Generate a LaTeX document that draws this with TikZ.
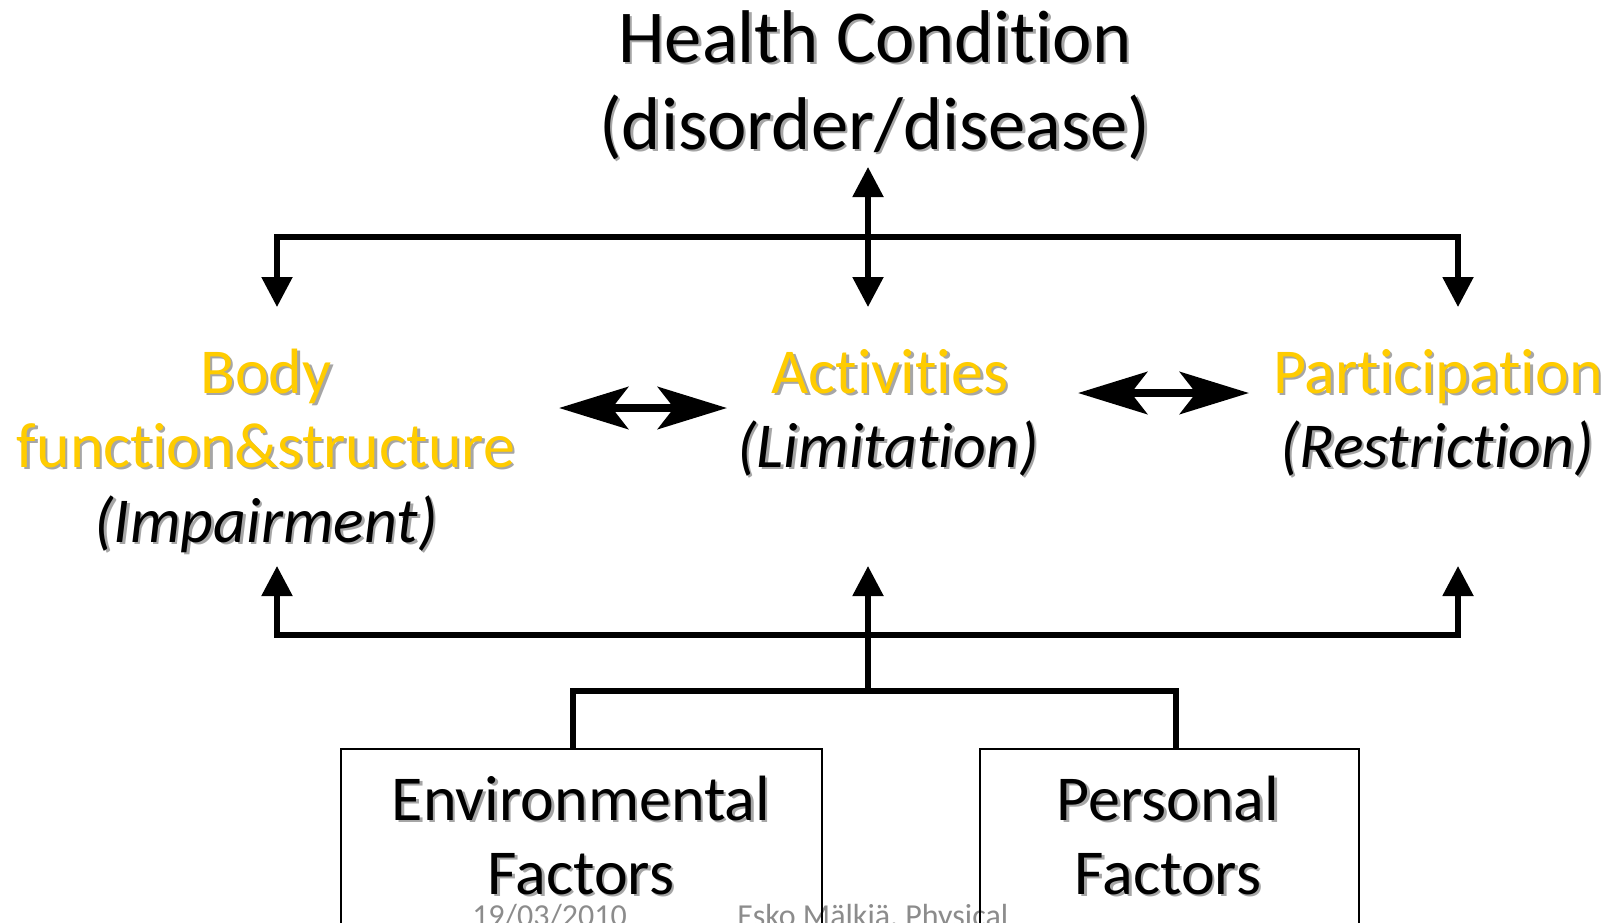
\documentclass[tikz,border=0pt]{standalone}
\usepackage{fontspec}
\setmainfont{Carlito}[RawFeature={-liga;-dlig;-clig}]
\usetikzlibrary{arrows.meta}
\definecolor{icfyellow}{HTML}{FFCC00}
\definecolor{shadowgray}{HTML}{A6A6A6}
\definecolor{footgray}{HTML}{8C8C8C}
\newcommand\shtext[4]{%
  \node[#3,text=shadowgray] (#1-sh) at ([shift={(2.5,2.5)}]#2) {#4};
  \node[#3] (#1) at (#2) {#4};}
\tikzset{
  lbl/.style={anchor=base,inner sep=0pt},
  hugetxt/.style={lbl,font=\fontsize{56pt}{64pt}\selectfont},
  bigtxt/.style={lbl,font=\fontsize{48pt}{56pt}\selectfont},
  bigit/.style={lbl,font=\fontsize{48pt}{56pt}\selectfont\itshape},
  yel/.style={bigtxt,text=icfyellow},
  foot/.style={anchor=base west,inner sep=0pt,text=footgray,font=\fontsize{24pt}{28pt}\selectfont},
  conn/.style={line width=4pt,line join=miter,line cap=butt},
  tri/.tip={Triangle[length=22.5pt,width=22.5pt]},
  blk/.tip={Stealth[length=51.75pt,width=31.5pt,inset=12pt]},
  dbl/.style={line width=6.5pt,blk-blk},
  factorbox/.style={draw,line width=1.2pt,inner sep=0pt,anchor=north west}
}
\begin{document}
\begin{tikzpicture}[x=0.75pt,y=-0.75pt]
\clip (0,0) rectangle (1617,922);
\fill[white] (0,0) rectangle (1617,922);

% footer (behind the boxes)
\node[foot] (date) at (472,926) {19/03/2010};
\node[foot] (author) at (737,926) {Esko Mälkiä, Physical};

% texts
\shtext{hc1}{875,62}{hugetxt}{Health Condition}
\shtext{hc2}{875,149}{hugetxt}{(disorder/disease)}

\shtext{body1}{266,393}{yel}{Body}
\shtext{body2}{266,467}{yel}{function\&structure}
\shtext{body3}{266,542}{bigit}{(Impairment)}

\shtext{act1}{890,393}{yel}{Activities}
\shtext{act2}{888,467}{bigit}{(Limitation)}

\shtext{part1}{1438,393}{yel}{Participation}
\shtext{part2}{1437,467}{bigit}{(Restriction)}

% factor boxes
\node[factorbox,minimum width=360.75pt,minimum height=180pt] (envbox) at (340,748) {};
\node[factorbox,minimum width=284.25pt,minimum height=180pt] (persbox) at (979,748) {};
\shtext{env1}{581,820}{bigtxt}{Environmental}
\shtext{env2}{581,894}{bigtxt}{Factors}
\shtext{pers1}{1168,820}{bigtxt}{Personal}
\shtext{pers2}{1168,894}{bigtxt}{Factors}

% connector points
\coordinate (hcIn) at (868,167);
\coordinate (tBusL) at (277,237);
\coordinate (tBusR) at (1458,237);
\coordinate (bodyIn) at (277,307);
\coordinate (actIn) at (868,307);
\coordinate (partIn) at (1458,307);
\coordinate (bodyOut) at (277,566);
\coordinate (actOut) at (868,566);
\coordinate (partOut) at (1458,566);
\coordinate (bBusL) at (277,635);
\coordinate (bBusM) at (868,635);
\coordinate (bBusR) at (1458,635);
\coordinate (fJoin) at (868,691);
\coordinate (envUp) at (573,691);
\coordinate (persUp) at (1176,691);
\coordinate (envTop) at (envbox.north -| envUp);
\coordinate (persTop) at (persbox.north -| persUp);

% top tree
\draw[conn,tri-tri] (bodyIn) -- (tBusL) -- (tBusR) -- (partIn);
\draw[conn,tri-tri] (hcIn) -- (actIn);

% bottom tree
\draw[conn,tri-tri] (bodyOut) -- (bBusL) -- (bBusR) -- (partOut);
\draw[conn,-tri] (fJoin) -- (actOut);
\draw[conn] (envTop) -- (envUp) -- (persUp) -- (persTop);

% double block arrows
\coordinate (bodyR) at (559,408);
\coordinate (actL) at (727,408);
\coordinate (actR) at (1078,393);
\coordinate (partL) at (1249,393);
\draw[dbl] (bodyR) -- (actL);
\draw[dbl] (actR) -- (partL);
\end{tikzpicture}
\end{document}
